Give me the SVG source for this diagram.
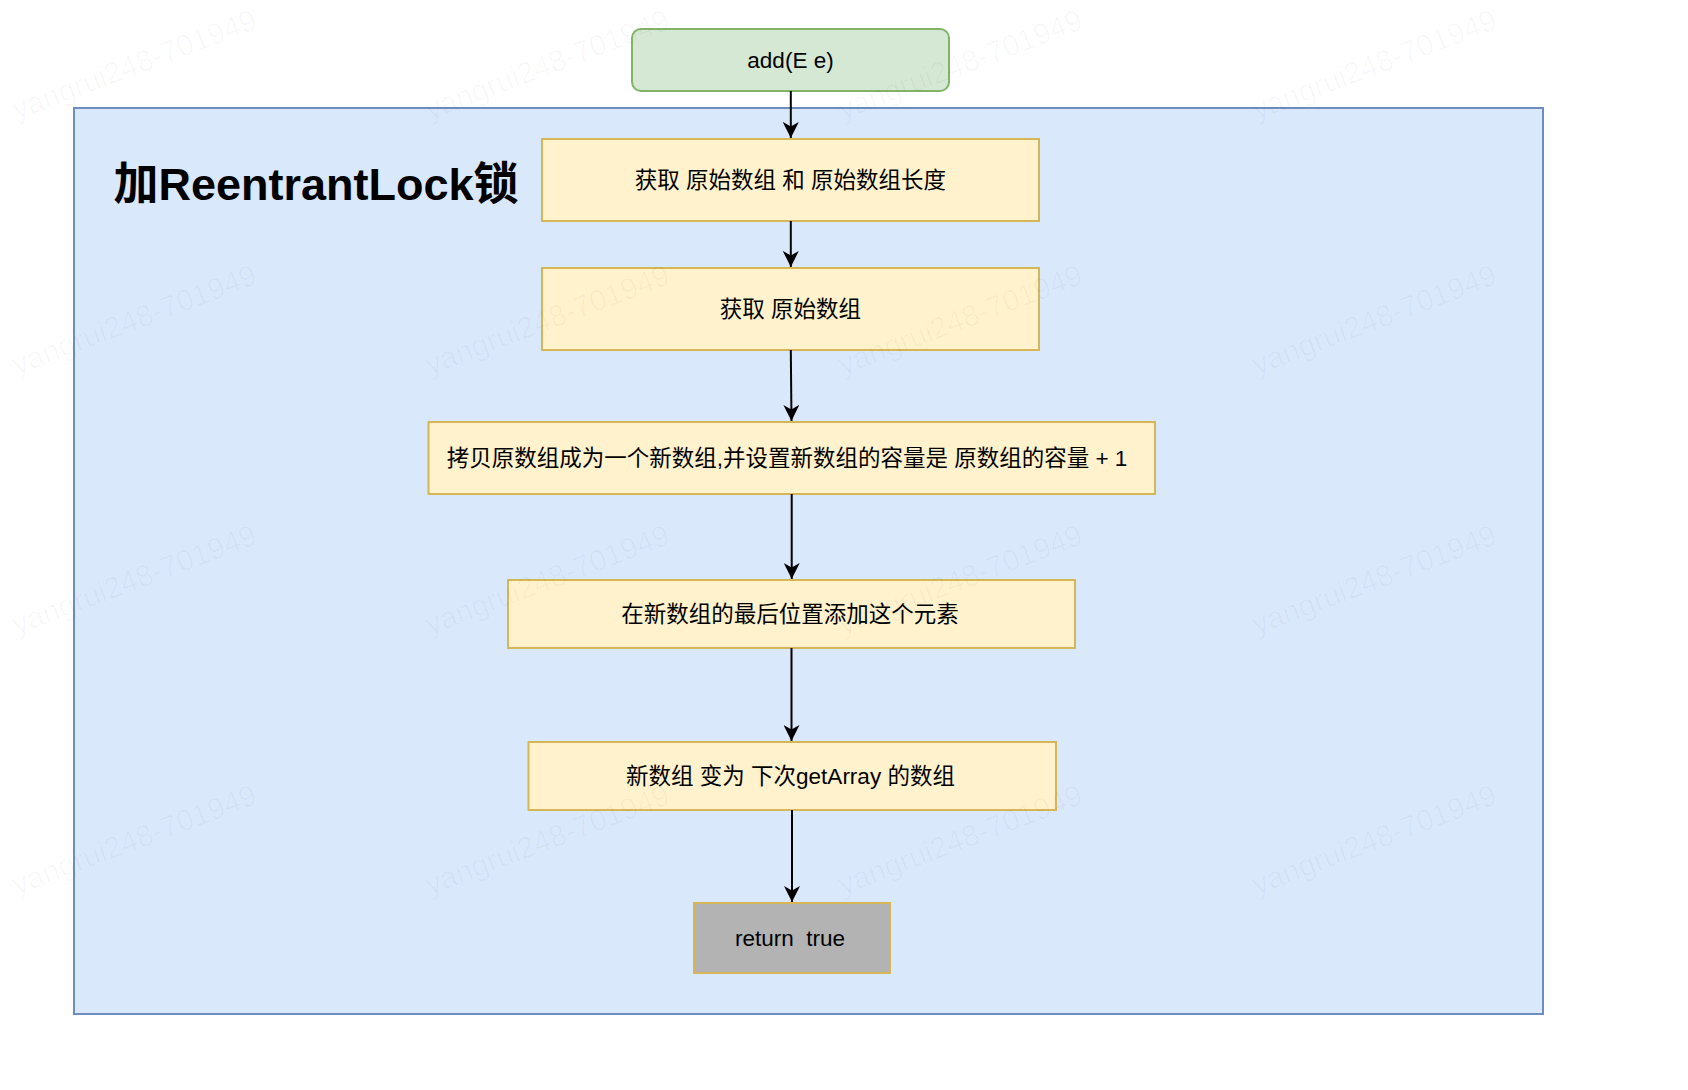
<svg xmlns="http://www.w3.org/2000/svg" width="1688" height="1090" viewBox="0 0 1688 1090">
<defs>
<style>
.txt{font-family:"Liberation Sans","Noto Sans CJK SC",sans-serif;font-size:22.5px;fill:#000;text-anchor:middle}
.title{font-family:"Liberation Sans","Noto Sans CJK SC",sans-serif;font-size:45px;font-weight:bold;fill:#000;text-anchor:middle}
.step{fill:#fff2cc;stroke:#d6b656;stroke-width:2}
.wm{font-family:"Liberation Sans",sans-serif;font-size:30px;fill:#000;fill-opacity:0.028}
.edge{fill:none;stroke:#000;stroke-width:2;marker-end:url(#arr)}
</style>
<marker id="arr" markerUnits="userSpaceOnUse" viewBox="0 0 17 16" markerWidth="17" markerHeight="16" refX="16" refY="8" orient="auto">
<path d="M0,0 L16,8 L0,16 L4.5,8 Z" fill="#000"/>
</marker>
</defs>
<rect width="1688" height="1090" fill="#fff"/>
<g id="lock-region">
<rect x="74" y="108" width="1469" height="906" fill="#dae8fc" stroke="#6c8ebf" stroke-width="2"/>
<text class="title" x="316" y="200">加ReentrantLock锁</text>
</g>
<g id="node-add">
<rect x="632" y="29" width="317" height="62" rx="9" ry="9" fill="#d5e8d4" stroke="#82b366" stroke-width="2"/>
<text class="txt" x="790.5" y="68">add(E e)</text>
</g>
<g id="node-get-array-len">
<rect class="step" x="542" y="139" width="497" height="82"/>
<text class="txt" x="790.5" y="188">获取 原始数组 和 原始数组长度</text>
</g>
<g id="node-get-array">
<rect class="step" x="542" y="268" width="497" height="82"/>
<text class="txt" x="790.5" y="317">获取 原始数组</text>
</g>
<g id="node-copy">
<rect class="step" x="428.5" y="422" width="726.5" height="72"/>
<text class="txt" x="787" y="466">拷贝原数组成为一个新数组,并设置新数组的容量是 原数组的容量 + 1</text>
</g>
<g id="node-append">
<rect class="step" x="508" y="580" width="567" height="68"/>
<text class="txt" x="790" y="622">在新数组的最后位置添加这个元素</text>
</g>
<g id="node-set-array">
<rect class="step" x="528.5" y="742" width="527.5" height="68"/>
<text class="txt" x="790.5" y="784">新数组 变为 下次getArray 的数组</text>
</g>
<g id="node-return">
<rect x="694" y="903" width="196" height="70" fill="#b3b3b3" stroke="#d6b656" stroke-width="2"/>
<text class="txt" x="790" y="946" xml:space="preserve">return  true</text>
</g>
<g id="connectors">
<path class="edge" d="M790.8,91 V138"/>
<path class="edge" d="M790.8,221 V267"/>
<path class="edge" d="M790.8,350 L791.5,421"/>
<path class="edge" d="M791.7,494 V579"/>
<path class="edge" d="M791.5,648 V741"/>
<path class="edge" d="M792,810 V902"/>
</g>
<g id="watermarks">
<text class="wm" transform="translate(17,120) rotate(-20.8)">yangrui248-701949</text>
<text class="wm" transform="translate(430,120) rotate(-20.8)">yangrui248-701949</text>
<text class="wm" transform="translate(843,120) rotate(-20.8)">yangrui248-701949</text>
<text class="wm" transform="translate(1257,120) rotate(-20.8)">yangrui248-701949</text>
<text class="wm" transform="translate(17,375) rotate(-20.8)">yangrui248-701949</text>
<text class="wm" transform="translate(430,375) rotate(-20.8)">yangrui248-701949</text>
<text class="wm" transform="translate(843,375) rotate(-20.8)">yangrui248-701949</text>
<text class="wm" transform="translate(1257,375) rotate(-20.8)">yangrui248-701949</text>
<text class="wm" transform="translate(17,635) rotate(-20.8)">yangrui248-701949</text>
<text class="wm" transform="translate(430,635) rotate(-20.8)">yangrui248-701949</text>
<text class="wm" transform="translate(843,635) rotate(-20.8)">yangrui248-701949</text>
<text class="wm" transform="translate(1257,635) rotate(-20.8)">yangrui248-701949</text>
<text class="wm" transform="translate(17,895) rotate(-20.8)">yangrui248-701949</text>
<text class="wm" transform="translate(430,895) rotate(-20.8)">yangrui248-701949</text>
<text class="wm" transform="translate(843,895) rotate(-20.8)">yangrui248-701949</text>
<text class="wm" transform="translate(1257,895) rotate(-20.8)">yangrui248-701949</text>
</g>
</svg>
